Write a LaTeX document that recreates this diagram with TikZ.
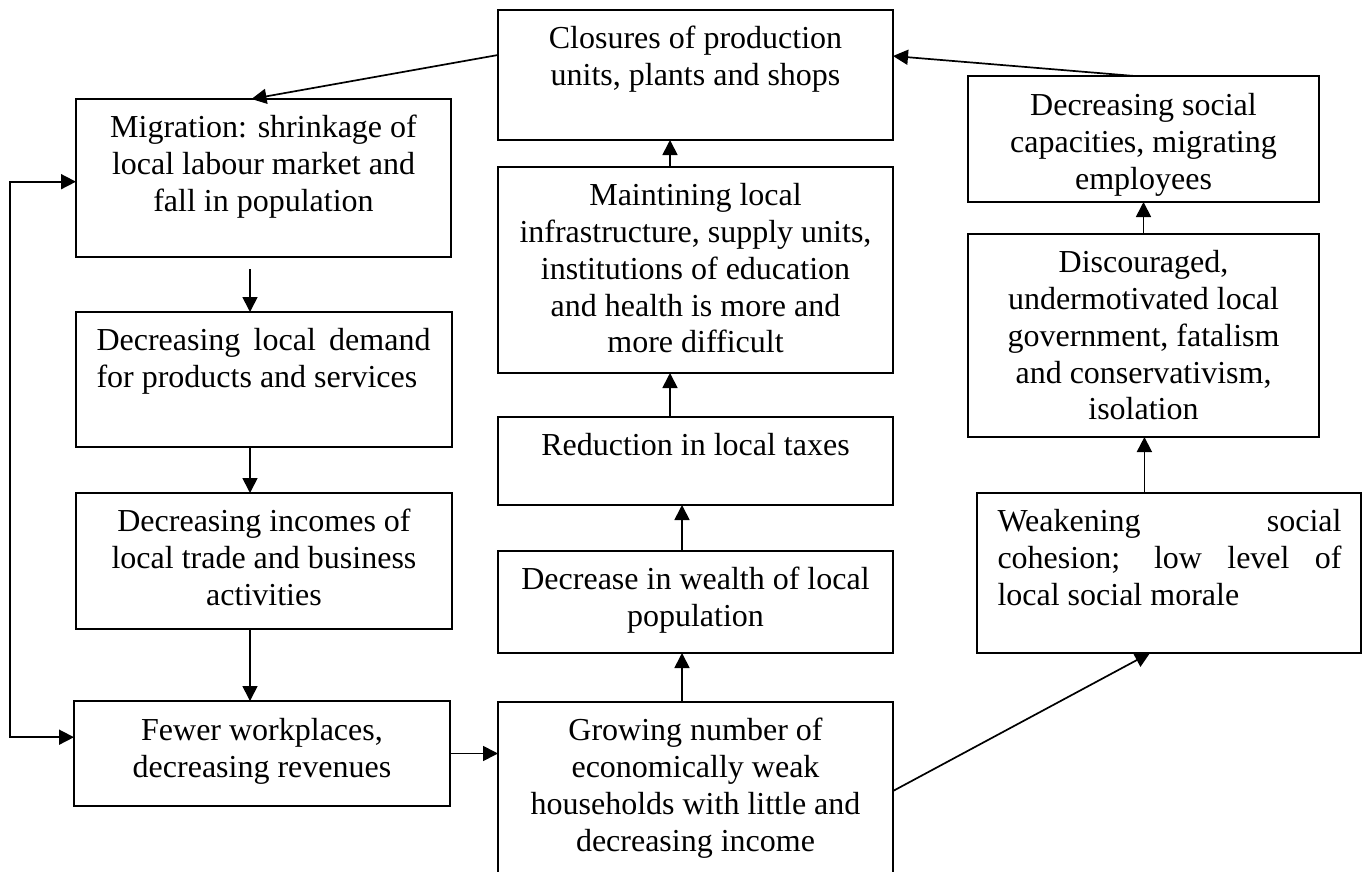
\documentclass[tikz,border=0pt]{standalone}
\usepackage{fontspec}
\setmainfont{Liberation Serif}
\usetikzlibrary{arrows.meta,calc}
\begin{document}
\begin{tikzpicture}[x=1pt,y=-1pt,
  box/.style={draw, line width=1.7pt, inner sep=0pt, outer sep=0pt, fill=white},
  txt/.style={anchor=north, inner sep=0pt, align=center, font=\fontsize{32}{36.8}\selectfont},
  txtl/.style={anchor=north west, inner sep=0pt, align=left, font=\fontsize{32}{36.8}\selectfont},
  arr/.style={line width=1.7pt, -{Triangle[length=15pt,width=15pt]}},
  arrboth/.style={line width=1.7pt, {Triangle[length=15pt,width=15pt]}-{Triangle[length=15pt,width=15pt]}}
]
\fill[white] (0,0) rectangle (1365,872);
\useasboundingbox (0,0) rectangle (1365,872);

% boxes
\node[box, minimum width=395pt, minimum height=130pt] (clo) at (695.5,75) {};
\node[box, minimum width=375pt, minimum height=158pt] (mig) at (263.5,178) {};
\node[box, minimum width=376pt, minimum height=135pt] (dld) at (264,379.5) {};
\node[box, minimum width=376pt, minimum height=136pt] (dinc) at (264,561) {};
\node[box, minimum width=376pt, minimum height=105pt] (few) at (262,753.5) {};
\node[box, minimum width=395pt, minimum height=206pt] (mnt) at (695.5,270) {};
\node[box, minimum width=395pt, minimum height=88pt] (red) at (695.5,461) {};
\node[box, minimum width=395pt, minimum height=102pt] (dec) at (695.5,602) {};
\node[box, minimum width=395pt, minimum height=172pt] (gro) at (695.5,788) {};
\node[box, minimum width=351pt, minimum height=126pt] (soc) at (1143.5,139) {};
\node[box, minimum width=351pt, minimum height=203pt] (dis) at (1143.5,335.5) {};
\node[box, minimum width=384pt, minimum height=160pt] (wea) at (1169,573) {};

% texts
\node[txt] (cloT) at ([yshift=-12.7pt]clo.north) {\strut Closures of production\\units, plants and shops};
\node[txt] (migT) at ([yshift=-12.7pt]mig.north) {\strut Migration: shrinkage of\\local labour market and\\fall in population};
\node[txtl] (dldT) at ([xshift=20.3pt,yshift=-12.7pt]dld.north west) {\strut\makebox[334pt][s]{Decreasing local demand}\\for products and services};
\node[txt] (dincT) at ([yshift=-12.7pt]dinc.north) {\strut Decreasing incomes of\\local trade and business\\activities};
\node[txt] (fewT) at ([yshift=-13.5pt]few.north) {\strut Fewer workplaces,\\decreasing revenues};
\node[txt] (mntT) at ([yshift=-12.7pt]mnt.north) {\strut Maintining local\\infrastructure, supply units,\\institutions of education\\and health is more and\\more difficult};
\node[txt] (redT) at ([yshift=-12.7pt]red.north) {\strut Reduction in local taxes};
\node[txt] (decT) at ([yshift=-12.7pt]dec.north) {\strut Decrease in wealth of local\\population};
\node[txt] (groT) at ([yshift=-12.7pt]gro.north) {\strut Growing number of\\economically weak\\households with little and\\decreasing income};
\node[txt] (socT) at ([yshift=-13.5pt]soc.north) {\strut Decreasing social\\capacities, migrating\\employees};
\node[txt] (disT) at ([yshift=-12.7pt]dis.north) {\strut Discouraged,\\undermotivated local\\government, fatalism\\and conservativism,\\isolation};
\node[txtl] (weaT) at ([xshift=20.3pt,yshift=-13pt]wea.north west) {\strut\makebox[344pt][s]{Weakening social}\\\makebox[344pt][s]{cohesion; low level of}\\local social morale};

% connectors
\coordinate (lp) at (9.8,0);
\draw[arr] ([yshift=20pt]clo.west) -- ([xshift=-12pt]mig.north);
\draw[arr] ([xshift=-9pt]soc.north) -- ([yshift=19pt]clo.east);
\draw[arr] ([xshift=-13.5pt,yshift=-12pt]mig.south) -- ([xshift=-13.5pt]mig.south |- dld.north);
\draw[arr] ([xshift=-14pt]dld.south) -- ([xshift=-14pt]dld.south |- dinc.north);
\draw[arr] ([xshift=-14pt]dinc.south) -- ([xshift=-14pt]dinc.south |- few.north);
\draw[arr] (few.east) -- (few.east -| gro.west);
\draw[arr] ([xshift=-13.5pt]gro.north) -- ([xshift=-13.5pt]gro.north |- dec.south);
\draw[arr] ([xshift=-13.5pt]dec.north) -- ([xshift=-13.5pt]dec.north |- red.south);
\draw[arr] ([xshift=-25.5pt]red.north) -- ([xshift=-25.5pt]red.north |- mnt.south);
\draw[arr] ([xshift=-25.5pt]mnt.north) -- ([xshift=-25.5pt]mnt.north |- clo.south);
\draw[arr] ([yshift=-3pt]gro.east) -- ([xshift=-19pt]wea.south);
\draw[arr] ([xshift=-24.6pt]wea.north) -- ([xshift=-24.6pt]wea.north |- dis.south);
\draw[arr] (dis.north) -- (dis.north |- soc.south);
\draw[arrboth] ([yshift=-3.7pt]mig.west) -- ([yshift=-3.7pt]mig.west -| lp) |- ([yshift=16.3pt]few.west);
\end{tikzpicture}
\end{document}
